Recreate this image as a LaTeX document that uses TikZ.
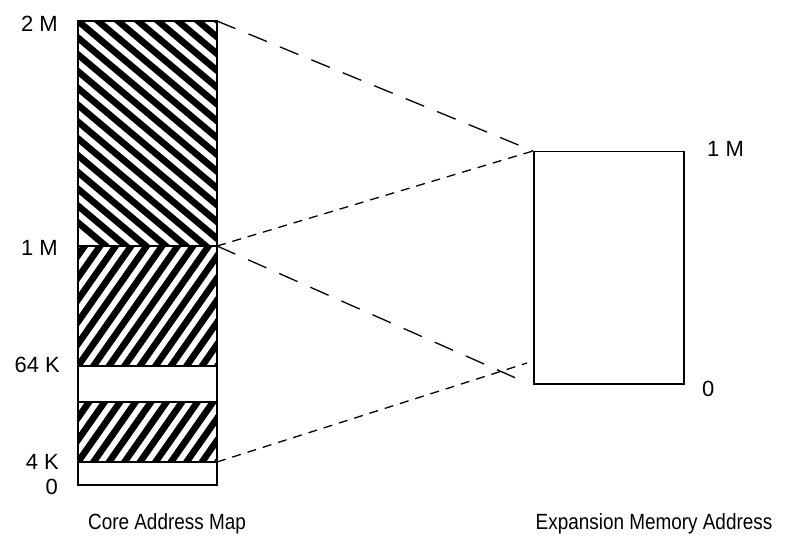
\documentclass[tikz,border=0pt]{standalone}
\usepackage{fontspec}
\setmainfont{Liberation Sans}
\begin{document}
\begin{tikzpicture}[x=1pt,y=-1pt,
  box/.style={draw=black,line width=1.5pt},
  stripe/.style={line width=6.6pt,black},
  longdash/.style={line width=1.3pt,dash pattern=on 20pt off 14pt},
  shortdash/.style={line width=1.3pt,dash pattern=on 9pt off 7pt},
  lab/.style={inner sep=0pt,font=\fontsize{22}{26}\selectfont},
  captext/.style={inner sep=0pt,font=\fontsize{22}{26}\selectfont}]
\useasboundingbox (0,0) rectangle (786,540);
% left column coordinates
\coordinate (tl) at (78,21);
\coordinate (tr) at (217,21);
\coordinate (mr) at (217,246);
\coordinate (kr) at (217,462);
% top hatched region (\\)
\begin{scope}
\clip (78,21) rectangle (217,246);
\foreach \k in {-12,...,20}{
  \draw[stripe] (78+20*\k-300,21-252) -- (78+20*\k+300,21+252);
}
\end{scope}
% middle hatched region (//)
\begin{scope}
\clip (78,246) rectangle (217,366);
\foreach \k in {-12,...,20}{
  \draw[stripe] (78+15.5*\k-150,366+214) -- (78+15.5*\k+150,366-214);
}
\end{scope}
% lower hatched region (//)
\begin{scope}
\clip (78,402) rectangle (217,462);
\foreach \k in {-12,...,20}{
  \draw[stripe] (78+15.5*\k-150,462+214) -- (78+15.5*\k+150,462-214);
}
\end{scope}
% outlines
\draw[box] (78,21) rectangle (217,485);
\draw[box] (78,246) -- (217,246);
\draw[box] (78,366) -- (217,366);
\draw[box] (78,402) -- (217,402);
\draw[box] (78,462) -- (217,462);
% expansion box
\node[box,minimum width=150pt,minimum height=232pt,anchor=north west,inner sep=0pt] (exp) at (533,151) {};
\coordinate (e3) at (518,379);
\coordinate (e4) at (527,363);
% connectors
\draw[longdash] (tr) -- (exp.north west);
\draw[shortdash] (mr) -- (exp.north west);
\draw[longdash] (mr) -- (e3);
\draw[shortdash] (kr) -- (e4);
% labels
\node[lab,anchor=east] (l2m) at (58,24) {2 M};
\node[lab,anchor=east] (l1m) at (58,248) {1 M};
\node[lab,anchor=east] (l64k) at (60,365) {64 K};
\node[lab,anchor=east] (l4k) at (59,462) {4 K};
\node[lab,anchor=east] (l0) at (58,487) {0};
\node[lab,anchor=west] (r1m) at (707,149) {1 M};
\node[lab,anchor=west] (r0) at (702,389) {0};
\node[captext] (c1) at (167,524) {\scalebox{0.86}[1]{Core Address Map}};
\node[captext] (c2) at (654,524) {\scalebox{0.86}[1]{Expansion Memory Address}};
\end{tikzpicture}
\end{document}
